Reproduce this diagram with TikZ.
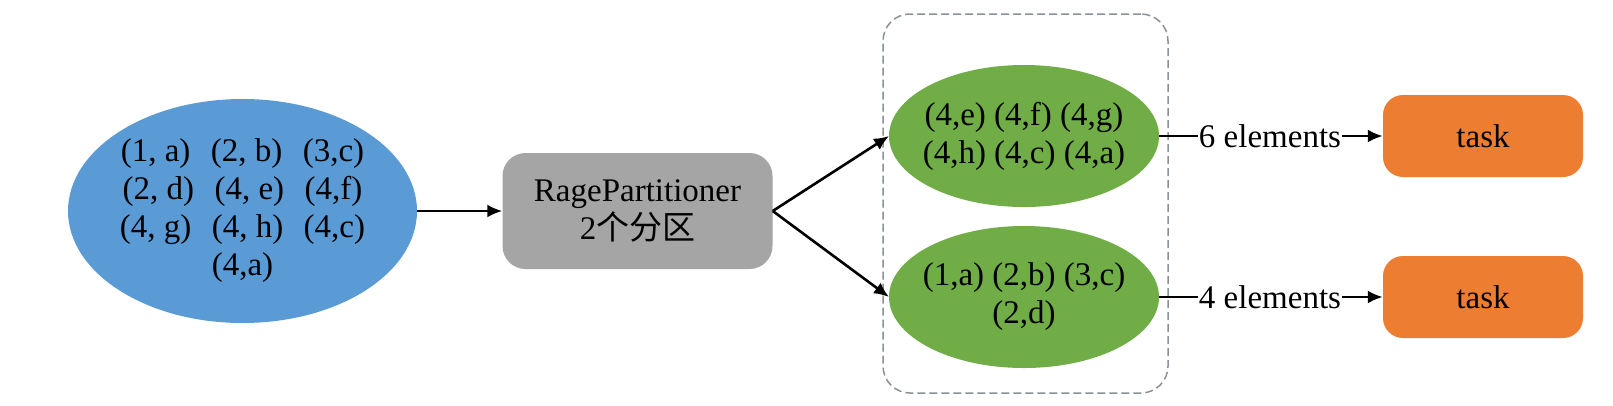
\documentclass[tikz,border=0pt]{standalone}
\usepackage{fontspec}
\setmainfont{Liberation Serif}
\newfontfamily\cjk{Noto Sans CJK SC}
\usetikzlibrary{shapes.geometric,arrows.meta}
\definecolor{cblue}{HTML}{5B9BD5}
\definecolor{cgreen}{HTML}{70AD47}
\definecolor{cgray}{HTML}{A5A5A5}
\definecolor{corange}{HTML}{ED7D31}
\definecolor{cdash}{HTML}{8A9199}
\tikzset{
  txt/.style={font=\fontsize{33}{38}\selectfont, align=center, text=black},
  ell/.style={txt, ellipse, inner xsep=-25pt, inner ysep=-10pt, outer sep=0pt},
  srcell/.style={ell, fill=cblue, minimum width=349pt, minimum height=224pt},
  partell/.style={ell, fill=cgreen, minimum width=270pt, minimum height=142pt},
  procbox/.style={txt, rectangle, rounded corners=23pt, fill=cgray, minimum width=270pt, minimum height=116pt, inner sep=0pt},
  taskbox/.style={txt, rectangle, rounded corners=20pt, fill=corange, minimum width=200pt, minimum height=82pt, inner sep=0pt},
  grpbox/.style={rectangle, rounded corners=27pt, draw=cdash, line width=1.5pt, dash pattern=on 8pt off 4pt, minimum width=285pt, minimum height=379pt, inner sep=0pt},
  lbl/.style={txt, inner sep=1pt},
  conn/.style={line width=2.6pt, draw=black},
  arr/.style={conn, -{Latex[length=15pt,width=13pt]}},
}
\begin{document}
\begin{tikzpicture}[x=1pt,y=-1pt]
\useasboundingbox[fill=white] (0,0) rectangle (1613,405);
\node[grpbox] (grp) at (1025.5,203.5) {};
\node[srcell] (src) at (242.5,211) {(1, a)\hspace{0.62em}(2, b)\hspace{0.62em}(3,c)\\(2, d)\hspace{0.62em}(4, e)\hspace{0.62em}(4,f)\\(4, g)\hspace{0.62em}(4, h)\hspace{0.62em}(4,c)\\(4,a)};
\node[procbox] (part) at (637.5,211) {RagePartitioner\\2{\cjk 个分区}};
\node[partell] (g1) at (1024,136) {(4,e) (4,f) (4,g)\\(4,h) (4,c) (4,a)};
\node[partell] (g2) at (1024,297) {(1,a) (2,b) (3,c)\\(2,d)};
\node[taskbox] (t1) at (1483,136) {task};
\node[taskbox] (t2) at (1483,297) {task};
\node[lbl] (l1) at (1270,136) {6 elements};
\node[lbl] (l2) at (1270,297) {4 elements};
\draw[arr] (src.east) -- (part.west);
\draw[arr] (part.east) -- (g1.west);
\draw[arr] (part.east) -- (g2.west);
\draw[conn] (g1.east) -- (l1.west);
\draw[arr] (l1.east) -- (t1.west);
\draw[conn] (g2.east) -- (l2.west);
\draw[arr] (l2.east) -- (t2.west);
\end{tikzpicture}
\end{document}
